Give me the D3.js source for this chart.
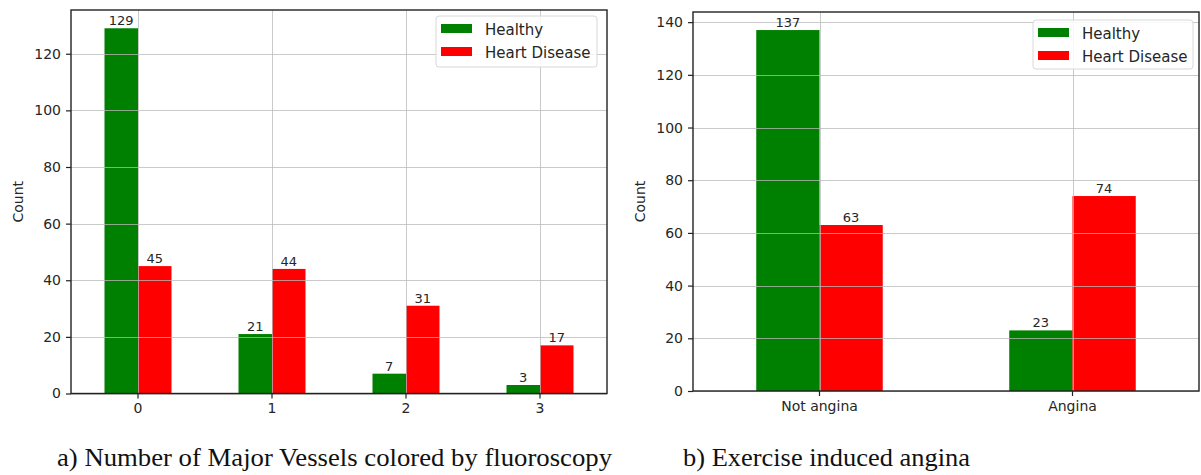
<!DOCTYPE html>
<html>
<head>
<meta charset="utf-8">
<script src="https://cdn.jsdelivr.net/npm/d3@7"></script>
<style>
  html, body { margin: 0; padding: 0; background: #fff; }
  svg { display: block; }
</style>
</head>
<body>
<svg id="chart" width="1201" height="475"></svg>
<script>
// Panel a: number of major vessels colored by fluoroscopy
const vesselCategories = ["0", "1", "2", "3"];
const vesselHealthy = [129, 21, 7, 3];
const vesselDisease = [45, 44, 31, 17];
const vesselTicks = [0, 20, 40, 60, 80, 100, 120];

// Panel b: exercise induced angina
const anginaCategories = ["Not angina", "Angina"];
const anginaHealthy = [137, 23];
const anginaDisease = [63, 74];
const anginaTicks = [0, 20, 40, 60, 80, 100, 120, 140];

const seriesNames = ["Healthy", "Heart Disease"];
const seriesColors = ["#008000", "#ff0000"];

const svg = d3.select("#chart");
const tickFont = "DejaVu Sans, sans-serif";
const textColor = "#262626";

function drawPanel(opts) {
  const { cats, healthy, disease, ticks, left, right, top, bottom, legend, caption } = opts;
  const g = svg.append("g");
  const maxVal = d3.max(healthy.concat(disease));
  const x = d3.scaleBand().domain(cats).range([left, right]).padding(0);
  const y = d3.scaleLinear().domain([0, maxVal * 1.05]).range([bottom, top]);
  const bw = x.bandwidth() * 0.25;
  const center = c => x(c) + x.bandwidth() / 2;

  // bars
  const series = [healthy, disease];
  series.forEach((vals, si) => {
    g.append("g").selectAll("rect").data(cats).join("rect")
      .attr("x", (c) => center(c) - bw + si * bw)
      .attr("y", (c, i) => y(vals[i]))
      .attr("width", bw)
      .attr("height", (c, i) => y(0) - y(vals[i]))
      .attr("fill", seriesColors[si]);
  });

  // grid on top of bars
  const grid = g.append("g").attr("stroke", "#b8b8b8").attr("stroke-opacity", 0.75).attr("stroke-width", 1);
  grid.selectAll("line.h").data(ticks).join("line").attr("class", "h")
    .attr("x1", left).attr("x2", right)
    .attr("y1", d => Math.round(y(d)) + 0.5).attr("y2", d => Math.round(y(d)) + 0.5);
  grid.selectAll("line.v").data(cats).join("line").attr("class", "v")
    .attr("y1", top).attr("y2", bottom)
    .attr("x1", d => Math.round(center(d)) + 0.5).attr("x2", d => Math.round(center(d)) + 0.5);

  // value labels
  series.forEach((vals, si) => {
    g.append("g").selectAll("text").data(cats).join("text")
      .attr("x", (c) => center(c) - bw / 2 + si * bw)
      .attr("y", (c, i) => y(vals[i]) - 3)
      .attr("text-anchor", "middle")
      .attr("font-family", tickFont)
      .attr("font-size", 13)
      .attr("fill", textColor)
      .text((c, i) => vals[i]);
  });

  // axes
  const yAxis = d3.axisLeft(y).tickValues(ticks).tickSize(5).tickPadding(5);
  const ya = g.append("g").attr("transform", `translate(${left},0)`).call(yAxis);
  const xAxis = d3.axisBottom(x).tickSize(5).tickPadding(5);
  const xa = g.append("g").attr("transform", `translate(0,${bottom})`).call(xAxis);
  [ya, xa].forEach(a => {
    a.select(".domain").remove();
    a.selectAll(".tick line").attr("stroke", "#222").attr("stroke-width", 1.2);
    a.selectAll(".tick text").attr("font-family", tickFont).attr("font-size", 14).attr("fill", textColor);
  });

  // frame
  g.append("rect")
    .attr("x", left).attr("y", top)
    .attr("width", right - left).attr("height", bottom - top)
    .attr("fill", "none").attr("stroke", "#222").attr("stroke-width", 1.4);

  // y label
  g.append("text")
    .attr("transform", `translate(${opts.labelX},${(top + bottom) / 2}) rotate(-90)`)
    .attr("text-anchor", "middle")
    .attr("font-family", tickFont)
    .attr("font-size", 14)
    .attr("fill", textColor)
    .text("Count");

  // legend
  const lg = g.append("g").attr("transform", `translate(${legend.x},${legend.y})`);
  lg.append("rect").attr("x", 0).attr("y", 0).attr("width", legend.w).attr("height", legend.h)
    .attr("rx", 3).attr("fill", "#fff").attr("fill-opacity", 0.85)
    .attr("stroke", "#d8d8d8").attr("stroke-width", 1);
  seriesNames.forEach((name, i) => {
    lg.append("rect").attr("x", 5).attr("y", 8 + i * 23).attr("width", 31).attr("height", 9)
      .attr("fill", seriesColors[i]);
    lg.append("text").attr("x", 49).attr("y", 19 + i * 23)
      .attr("font-family", tickFont).attr("font-size", 15).attr("fill", textColor)
      .text(name);
  });

  // caption
  svg.append("text")
    .attr("x", caption.x).attr("y", caption.y)
    .attr("font-family", "Liberation Serif, serif")
    .attr("font-size", 26)
    .attr("fill", "#111")
    .attr("textLength", caption.w)
    .attr("lengthAdjust", "spacingAndGlyphs")
    .text(caption.text);
}

drawPanel({
  cats: vesselCategories, healthy: vesselHealthy, disease: vesselDisease, ticks: vesselTicks,
  left: 71, right: 607, top: 10, bottom: 393.5, labelX: 23,
  legend: { x: 436, y: 16, w: 161, h: 51 },
  caption: { x: 57, y: 466, w: 555, text: "a) Number of Major Vessels colored by fluoroscopy" }
});

drawPanel({
  cats: anginaCategories, healthy: anginaHealthy, disease: anginaDisease, ticks: anginaTicks,
  left: 693, right: 1199, top: 12, bottom: 391, labelX: 645,
  legend: { x: 1033, y: 20, w: 160, h: 49 },
  caption: { x: 683, y: 466, w: 287, text: "b) Exercise induced angina" }
});
</script>
</body>
</html>
